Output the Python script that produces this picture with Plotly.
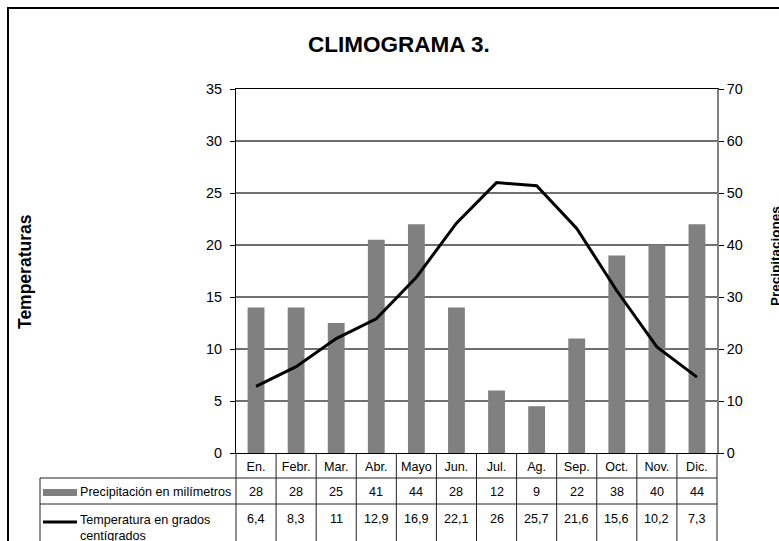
import plotly.graph_objects as go

# Monthly climate data
meses = ["En.", "Febr.", "Mar.", "Abr.", "Mayo", "Jun.", "Jul.", "Ag.", "Sep.", "Oct.", "Nov.", "Dic."]
precipitacion = [28, 28, 25, 41, 44, 28, 12, 9, 22, 38, 40, 44]
temperatura = [6.4, 8.3, 11, 12.9, 16.9, 22.1, 26, 25.7, 21.6, 15.6, 10.2, 7.3]
ticks_temp = [0, 5, 10, 15, 20, 25, 30, 35]
ticks_prec = [0, 10, 20, 30, 40, 50, 60, 70]

titulo = "CLIMOGRAMA 3."
etiqueta_temp = "Temperaturas"
etiqueta_prec = "Precipitaciones"
fila_prec = "Precipitación en milímetros"
fila_temp = "Temperatura en grados<br>centígrados"

W, H = 779, 541
L, R, T, B = 236, 62, 89, 88
PW = W - L - R
PH = H - T - B
FONT = "Arial, Liberation Sans, sans-serif"
GRIS = "#808080"
TXT = 12.6


def px_x(px):
    return (px - L) / PW


def px_y(py):
    return (H - B - py) / PH


def fmt(v):
    return f"{v:g}".replace(".", ",")


def label(text, x, y, size, **kw):
    d = dict(text=text, xref="paper", yref="paper", x=x, y=y, showarrow=False,
             xanchor="center", yanchor="middle",
             font=dict(size=size, color="black", family=FONT))
    d.update(kw)
    return d


fig = go.Figure()

fig.add_trace(go.Bar(
    x=meses, y=precipitacion, yaxis="y",
    marker=dict(color=GRIS, line=dict(width=0)),
    width=0.42, name="Precipitación en milímetros", showlegend=False,
))
fig.add_trace(go.Scatter(
    x=meses, y=temperatura, yaxis="y2", mode="lines",
    line=dict(color="black", width=3),
    name="Temperatura en grados centígrados", showlegend=False,
))

shapes = []
# outer chart border
shapes.append(dict(type="rect", xref="paper", yref="paper",
                   x0=px_x(8), x1=px_x(820), y0=px_y(8), y1=px_y(600),
                   line=dict(color="black", width=2), fillcolor="rgba(0,0,0,0)"))

# data table grid
LINE = dict(color="#222", width=1)
tbl_left, tbl_bottom = 40, 600
for yy in (478, 504):
    shapes.append(dict(type="line", xref="paper", yref="paper",
                       x0=px_x(tbl_left), x1=1, y0=px_y(yy), y1=px_y(yy), line=LINE))
shapes.append(dict(type="line", xref="paper", yref="paper",
                   x0=px_x(tbl_left), x1=px_x(tbl_left), y0=px_y(478), y1=px_y(tbl_bottom), line=LINE))
for xx in (0, 1):
    shapes.append(dict(type="line", xref="paper", yref="paper",
                       x0=xx, x1=xx, y0=0, y1=px_y(tbl_bottom), line=LINE))
for k in range(1, len(meses)):
    shapes.append(dict(type="line", xref="x", yref="paper",
                       x0=k - 0.5, x1=k - 0.5, y0=0, y1=px_y(tbl_bottom), line=LINE))

# legend keys inside the table
shapes.append(dict(type="rect", xref="paper", yref="paper",
                   x0=px_x(43), x1=px_x(77), y0=px_y(489), y1=px_y(496),
                   fillcolor=GRIS, line=dict(width=0)))
shapes.append(dict(type="line", xref="paper", yref="paper",
                   x0=px_x(43), x1=px_x(77), y0=px_y(522), y1=px_y(522),
                   line=dict(color="black", width=3)))

annotations = [
    label(f"<b>{titulo}</b>", px_x(399), px_y(44), 22.5),
    label(f"<b>{etiqueta_temp}</b>", px_x(25), px_y(272), 17.5, textangle=-90),
    label(f"<b>{etiqueta_prec}</b>", px_x(775), px_y(256), 13.5, textangle=-90),
    label(fila_prec, px_x(78), px_y(492), TXT, xanchor="left"),
    label(fila_temp, px_x(78), px_y(511), TXT, xanchor="left", yanchor="top", align="left"),
]
for m, p, t in zip(meses, precipitacion, temperatura):
    annotations.append(dict(text=fmt(p), xref="x", yref="paper", x=m, y=px_y(492),
                            xanchor="center", yanchor="middle", showarrow=False,
                            font=dict(size=TXT, color="black", family=FONT)))
    annotations.append(dict(text=fmt(t), xref="x", yref="paper", x=m, y=px_y(519),
                            xanchor="center", yanchor="middle", showarrow=False,
                            font=dict(size=TXT, color="black", family=FONT)))

fig.update_layout(
    width=W, height=H, autosize=False,
    margin=dict(l=L, r=R, t=T, b=B, pad=0),
    paper_bgcolor="white", plot_bgcolor="white",
    font=dict(family=FONT, color="black"),
    showlegend=False,
    xaxis=dict(type="category", categoryorder="array", categoryarray=meses,
               range=[-0.5, len(meses) - 0.5],
               showline=True, mirror=True, linecolor="black", linewidth=1,
               ticks="", showgrid=False, tickfont=dict(size=TXT, family=FONT),
               ticklabelstandoff=2),
    yaxis=dict(side="right", range=[0, 70], tickvals=ticks_prec,
               showgrid=True, gridcolor="#707070", gridwidth=1.5,
               showline=True, linecolor=GRIS, linewidth=1.5,
               ticks="outside", ticklen=5, tickcolor="black",
               tickfont=dict(size=14.4, family=FONT), zeroline=False),
    yaxis2=dict(overlaying="y", side="left", range=[0, 35], tickvals=ticks_temp,
                showgrid=False, showline=True, linecolor="black", linewidth=1,
                ticks="outside", ticklen=5, tickcolor="black",
                tickfont=dict(size=14.4, family=FONT), zeroline=False,
                ticklabelstandoff=5),
    shapes=shapes,
    annotations=annotations,
)

fig.write_html("out.html")
